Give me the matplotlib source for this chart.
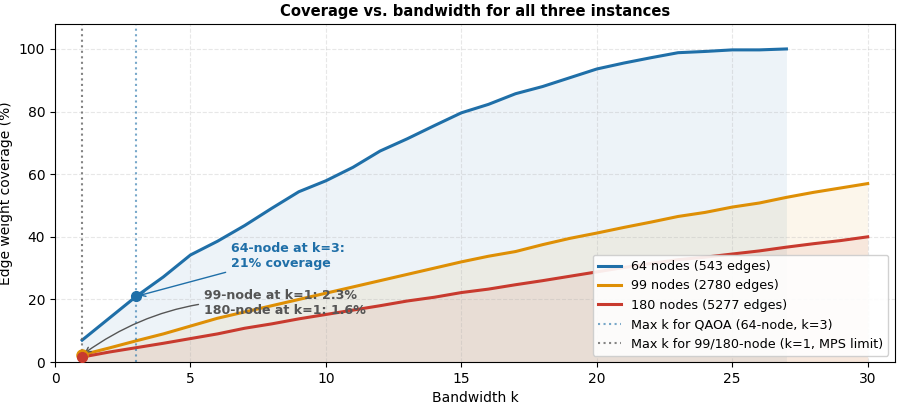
import numpy as np
import matplotlib
matplotlib.use("Agg")
import matplotlib.pyplot as plt

# coverage (%) per bandwidth k
k_64 = list(range(1, 28))
cov_64 = [7, 14, 21, 27.2, 34.2, 38.6, 43.6, 49.1, 54.4, 57.9, 62.2, 67.4, 71.3, 75.5, 79.6,
          82.3, 85.7, 88.0, 90.8, 93.6, 95.5, 97.2, 98.8, 99.2, 99.7, 99.7, 100]
k_big = list(range(1, 31))
cov_99 = [2.3, 4.5, 6.8, 9.0, 11.5, 14.0, 16.0, 18.0, 20.0, 22.0, 24.0, 26.0, 28.0, 30.0, 32.0,
          33.8, 35.3, 37.5, 39.5, 41.2, 43.0, 44.7, 46.5, 47.8, 49.5, 50.8, 52.6, 54.2, 55.6, 57.0]
cov_180 = [1.6, 3.2, 4.6, 6.0, 7.5, 9.0, 10.8, 12.2, 13.8, 15.2, 16.6, 18.0, 19.5, 20.7, 22.2,
           23.3, 24.7, 26.0, 27.4, 28.8, 30.2, 31.5, 32.7, 33.5, 34.5, 35.5, 36.7, 37.8, 38.8, 40.0]
labels = ["64 nodes (543 edges)", "99 nodes (2780 edges)", "180 nodes (5277 edges)"]
colors = ["#1f6fa8", "#de8f05", "#c83a2e"]

fig = plt.figure(figsize=(9.02, 4.05), dpi=100)
ax = fig.add_axes([0.061, 0.106, 0.931, 0.835])

series = [(k_64, cov_64), (k_big, cov_99), (k_big, cov_180)]
for (k, c), lab, col in zip(series, labels, colors):
    ax.plot(k, c, color=col, lw=2.2, label=lab)
    ax.fill_between(k, 0, c, color=col, alpha=0.08, lw=0)

ax.axvline(3, color="#1f6fa8", ls=":", lw=1.5, alpha=0.6, label="Max k for QAOA (64-node, k=3)")
ax.axvline(1, color="#666666", ls=":", lw=1.5, alpha=0.8, label="Max k for 99/180-node (k=1, MPS limit)")

ax.plot(k_64[2], cov_64[2], "o", color=colors[0], ms=7, zorder=5)
ax.plot(k_big[0], cov_99[0], "o", color=colors[1], ms=8, zorder=5)
ax.plot(k_big[0], cov_180[0], "o", color=colors[2], ms=7, zorder=5)

ax.annotate("64-node at k=3:\n21% coverage", xy=(k_64[2], cov_64[2]), xytext=(6.5, 30.5),
            color=colors[0], fontsize=9.1, fontweight="bold",
            arrowprops=dict(arrowstyle="->", color=colors[0], lw=1))
ax.annotate("99-node at k=1: 2.3%\n180-node at k=1: 1.6%", xy=(k_big[0], cov_99[0]),
            xytext=(5.5, 15.3), color="#555555", fontsize=9.1, fontweight="bold",
            arrowprops=dict(arrowstyle="->", color="#555555", lw=1,
                            connectionstyle="arc3,rad=0.2"))

ax.set_xlim(0, 31)
ax.set_ylim(0, 108)
ax.set_xlabel("Bandwidth k", fontsize=10)
ax.set_ylabel("Edge weight coverage (%)", fontsize=10)
ax.set_title("Coverage vs. bandwidth for all three instances", fontsize=10.6, fontweight="bold")
ax.grid(True, ls="--", alpha=0.3)
ax.legend(loc="lower right", fontsize=9.2, framealpha=0.9, handlelength=1.8)

fig.savefig("out.png", dpi=100)
